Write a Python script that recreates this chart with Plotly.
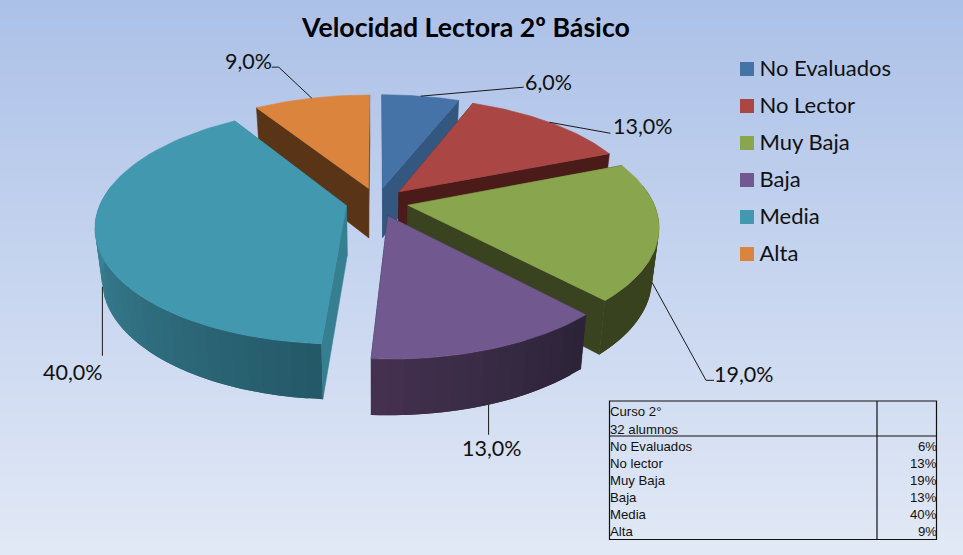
import math
import plotly.graph_objects as go

# ---- data ----
title = "Velocidad Lectora 2º Básico"
legend_labels = ["No Evaluados", "No Lector", "Muy Baja", "Baja", "Media", "Alta"]
table_labels = ["No Evaluados", "No lector", "Muy Baja", "Baja", "Media", "Alta"]
shares = [6, 13, 19, 13, 40, 9]
table_header = ["Curso 2°", "32 alumnos"]

# ---- styles ----
top_colors = ["#4572A7", "#AA4643", "#89A54E", "#71588F", "#4198AF", "#DB843D"]
side_colors = ["#33577F", "#4A1B18", "#39431F", "#2E2339", "#367F91", "#5A3416"]
wall_from = [(51, 87, 127), (74, 27, 24), (56, 66, 30), (44, 34, 56), (36, 88, 103), (90, 52, 22)]
wall_to = [(51, 87, 127), (74, 27, 24), (56, 66, 30), (68, 50, 80), (62, 138, 158), (90, 52, 22)]
draw_order = [5, 0, 1, 2, 4, 3]
font = "Lato"
table_font = "Liberation Sans"
W, H = 963, 555

# projection of the exploded pie
CX, CY, RX, RY, PERSP, EXPLODE, DEPTH, SHRINK = 377, 202, 245.5, 113.5, 0.17, 0.128, 50, 0.975


def project(u, v, bottom=False):
    s = 1 / (1 + PERSP * v)
    x = CX + RX * u * s
    y = CY - RY * v * s
    if bottom:
        y += DEPTH * s ** 0.55
        x = CX + (x - CX) * SHRINK
    return x, y


total = sum(shares)
bounds = []
acc = 0
for v in shares:
    bounds.append((acc / total * 360, (acc + v) / total * 360))
    acc += v


def rim(i, theta, bottom=False, r=1.0):
    a0, a1 = bounds[i]
    m = math.radians((a0 + a1) / 2)
    ou, ov = EXPLODE * math.sin(m), EXPLODE * math.cos(m)
    t = math.radians(theta)
    return project(ou + r * math.sin(t), ov + r * math.cos(t), bottom)


def poly(points, color, width=0.6):
    xs = [p[0] for p in points] + [points[0][0]]
    ys = [p[1] for p in points] + [points[0][1]]
    return go.Scatter(x=xs, y=ys, mode="lines", fill="toself", fillcolor=color,
                      line=dict(color=color, width=width), hoverinfo="skip", showlegend=False)


fig = go.Figure()

# background gradient
rows = list(range(0, H + 1, 5))
fig.add_trace(go.Heatmap(x=[0, W], y=rows, z=[[r, r] for r in rows], zsmooth="best", showscale=False,
                         hoverinfo="skip", zmin=0, zmax=H,
                         colorscale=[[0, "rgb(172,193,232)"], [1, "rgb(226,233,246)"]]))

for i in draw_order:
    a0, a1 = bounds[i]
    apex_t, apex_b = rim(i, a0, False, 0), rim(i, a0, True, 0)
    # radial side walls
    for a in (a0, a1):
        fig.add_trace(poly([apex_t, rim(i, a), rim(i, a, True), apex_b], side_colors[i]))
    # outer curved wall, strips overlap the next one so no seams show
    lo, hi = max(a0, 80), min(a1, 280)
    if hi > lo:
        n = max(2, int((hi - lo) / 3))
        step = (hi - lo) / n
        for k in range(n):
            t0 = lo + step * k
            t1 = min(hi, t0 + 2 * step)
            f = (k + 0.5) / n
            c = [round(p + (q - p) * f) for p, q in zip(wall_from[i], wall_to[i])]
            col = f"rgb({c[0]},{c[1]},{c[2]})"
            pts = [rim(i, t0 + (t1 - t0) * j / 4) for j in range(5)]
            pts += [rim(i, t1 - (t1 - t0) * j / 4, True) for j in range(5)]
            fig.add_trace(poly(pts, col, 0))
    # top face
    n = 60
    arc = [rim(i, a0 + (a1 - a0) * k / n) for k in range(n + 1)]
    fig.add_trace(poly([apex_t] + arc, top_colors[i]))

# data labels with leader lines: (elbow dx, dy, end dx, dy, text dx, dy) relative to the slice anchor
label_offsets = [
    (103, -9, 103, -9, 128, -14),
    (52, 10, 61, 11, 94, 4),
    (54, 98, 62, 98, 92, 92),
    (0, 30, 0, 30, 3, 43),
    (0, 69, 0, 69, -29, 85),
    (-33, -31, -40, -31, -63, -37),
]
front = [False, False, True, True, True, False]
annotations = []
for i, v in enumerate(shares):
    a0, a1 = bounds[i]
    ax, ay = rim(i, (a0 + a1) / 2, front[i])
    ex, ey, fx, fy, tx, ty = label_offsets[i]
    fig.add_trace(go.Scatter(x=[ax, ax + ex, ax + fx], y=[ay, ay + ey, ay + fy], mode="lines",
                             line=dict(color="#1a1a1a", width=1), hoverinfo="skip", showlegend=False))
    annotations.append(dict(x=ax + tx, y=ay + ty, xref="x", yref="y", showarrow=False,
                            text=f"{v:.1f}".replace(".", ",") + "%",
                            font=dict(family=font, size=21.5, color="#111111")))

# legend
for i, name in enumerate(legend_labels):
    yy = 69 + 37 * i
    fig.add_trace(go.Scatter(x=[747], y=[yy], mode="markers", name=name,
                             marker=dict(symbol="square", size=14, color=top_colors[i]),
                             hoverinfo="skip", showlegend=False))
    fig.add_trace(go.Scatter(x=[759.5], y=[yy + 1], mode="text", text=[name], textposition="middle right",
                             textfont=dict(family=font, size=22, color="#111111"),
                             hoverinfo="skip", showlegend=False))

# title
annotations.append(dict(x=465, y=27, xref="x", yref="y", showarrow=False, text=f"<b>{title}</b>",
                        font=dict(family=font, size=26.7, color="#000000")))

# small table
TL, TR, TC, TT, TB, TH = 609.5, 936.5, 877, 401, 539.5, 436
shapes = [
    dict(type="rect", x0=TL, x1=TR, y0=TT, y1=TB, line=dict(color="#111111", width=1.2)),
    dict(type="line", x0=TL, x1=TR, y0=TH, y1=TH, line=dict(color="#111111", width=1.2)),
    dict(type="line", x0=TC, x1=TC, y0=TT, y1=TB, line=dict(color="#111111", width=1.2)),
]
for k, t in enumerate(table_header):
    annotations.append(dict(x=TL, y=411 + 18 * k, xref="x", yref="y", xanchor="left", showarrow=False,
                            text=t, font=dict(family=table_font, size=13.2, color="#111111"), xshift=-2))
for k, (name, v) in enumerate(zip(table_labels, shares)):
    yy = 446 + 17 * k
    annotations.append(dict(x=TL, y=yy, xref="x", yref="y", xanchor="left", showarrow=False,
                            text=name, font=dict(family=table_font, size=13.2, color="#111111"), xshift=-2))
    annotations.append(dict(x=TR, y=yy, xref="x", yref="y", xanchor="right", showarrow=False,
                            text=f"{v}%", font=dict(family=table_font, size=13.2, color="#111111"), xshift=2))

fig.update_layout(
    width=W, height=H, margin=dict(l=0, r=0, t=0, b=0, pad=0),
    paper_bgcolor="rgb(200,213,239)", plot_bgcolor="rgba(0,0,0,0)", showlegend=False,
    xaxis=dict(range=[0, W], visible=False, fixedrange=True),
    yaxis=dict(range=[H, 0], visible=False, fixedrange=True),
    annotations=annotations, shapes=shapes,
)
fig.write_html("out.html", config=dict(displayModeBar=False),
               post_script="document.documentElement.style.margin='0';document.body.style.margin='0';document.documentElement.style.overflow='hidden';")
